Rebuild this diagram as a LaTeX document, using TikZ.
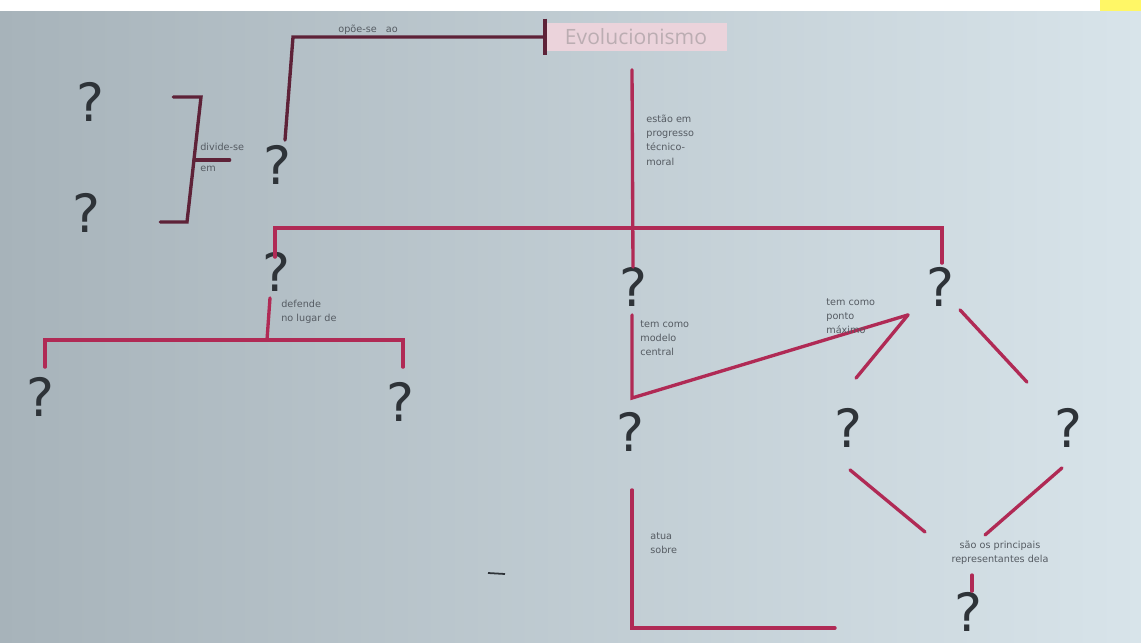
\documentclass[tikz,border=0pt]{standalone}
\usepackage{fontspec}
\setmainfont{DejaVu Sans}
\newfontfamily\titulofont{Open Sans}
\usepackage{tikz}
\usetikzlibrary{arrows.meta,positioning}

\definecolor{papelesq}{HTML}{A7B3BA}
\definecolor{papeldir}{HTML}{D8E4EA}
\definecolor{linha}{HTML}{B02A55}
\definecolor{linhaesc}{HTML}{5E2238}
\definecolor{rosa}{HTML}{EBD3DB}
\definecolor{tinta}{HTML}{2E3338}
\definecolor{lapis}{HTML}{555B62}

\begin{document}
\begin{tikzpicture}[
  x=0.02cm, y=-0.02cm,
  pergunta/.style={inner sep=0pt, font=\fontsize{30}{30}\selectfont, text=tinta},
  rotulo/.style={align=left, inner sep=0pt, anchor=north west, font=\fontsize{5.5}{8}\selectfont, text=lapis},
  traco/.style={line width=1.9pt, draw=linha, line cap=round},
  escuro/.style={traco, draw=linhaesc}
]
\useasboundingbox (0,0) rectangle (1141,642);

% papel
\fill[left color=papelesq, right color=papeldir] (0,0) rectangle (1141,642);
\fill[white] (0,0) rectangle (1141,11);
\fill[yellow!60!white] (1100,0) rectangle (1141,11);

% conceito central
\node[fill=rosa, minimum width=3.64cm, minimum height=0.58cm, inner sep=0pt,
      font=\titulofont\fontsize{12}{12}\selectfont, text=rosa!55!gray] (titulo) at (636,37) {Evolucionismo};
\draw[line width=2.2pt, linhaesc] ([yshift=2pt]titulo.north west) -- ([yshift=-2pt]titulo.south west);

% perguntas
\node[pergunta] (p1) at (277,165) {?};
\node[pergunta] (p2) at (90,102) {?};
\node[pergunta] (p3) at (86,213) {?};
\node[pergunta] (p4) at (276,272) {?};
\node[pergunta] (p5) at (633,287) {?};
\node[pergunta] (p6) at (940,287) {?};
\node[pergunta] (p7) at (40,397) {?};
\node[pergunta] (p8) at (400,402) {?};
\node[pergunta] (p9) at (630,432) {?};
\node[pergunta] (p10) at (848,428) {?};
\node[pergunta] (p11) at (1068,428) {?};
\node[pergunta] (p12) at (968,612) {?};

% ramo de cima
\draw[escuro] (titulo.west) -- (293,37) -- ([shift={(8,-5)}]p1.north);
\node[rotulo] (r1) at (338,25) {opõe-se \ \ ao};

% chave da esquerda
\draw[escuro] ([shift={(69,-5)}]p2.east) -- (201,97) -- (187,222) -- ([shift={(60,9)}]p3.east);
\draw[escuro] (194,160) -- ([shift={(-33,-5)}]p1.west);
\node[rotulo] (r2) at (200,143) {divide-se\\[4pt]em};

% tronco central
\draw[traco] ([shift={(-4,18)}]titulo.south) -- (p5.north);
\draw[traco] ([shift={(-1,5)}]p4.north) |- (633,228) -| ([shift={(2,-4)}]p6.north);
\node[rotulo] (r3) at (646,115) {estão em\\progresso\\técnico-\\moral};

% ramo da esquerda
\draw[traco] ([shift={(-6,6)}]p4.south) -- (267,340);
\draw[traco] ([shift={(5,-10)}]p7.north) |- (403,340) -- ([shift={(3,-15)}]p8.north);
\node[rotulo] (r4) at (281,300) {defende\\no lugar de};

% ramo do meio
\draw[traco] ([shift={(-1,8)}]p5.south) -- (632,398) -- ([shift={(-32,8)}]p6.south);
\draw[traco] ([shift={(-32,8)}]p6.south) -- ([shift={(8,-30)}]p10.north);
\node[rotulo] (r5) at (640,320) {tem como\\modelo\\central};
\node[rotulo] (r6) at (826,298) {tem como\\ponto\\máximo};

% ramo da direita
\draw[traco] ([shift={(20,3)}]p6.south) -- ([shift={(-41,-26)}]p11.north);
\draw[traco] ([shift={(2,38)}]p9.south) |- (835,628);
\node[rotulo] (r7) at (650,532) {atua\\sobre};

% losango de baixo
\draw[traco] ([shift={(2,22)}]p10.south) -- (925,532);
\draw[traco] ([shift={(-6,20)}]p11.south) -- (985,535);
\node[rotulo, anchor=north, align=center] (r8) at (1000,541) {são os principais\\representantes dela};
\draw[traco] (972,575) -- ([shift={(4,-1)}]p12.north);

% risco solto
\draw[tinta, line width=1pt] (488,573) -- (505,574);
\end{tikzpicture}
\end{document}
